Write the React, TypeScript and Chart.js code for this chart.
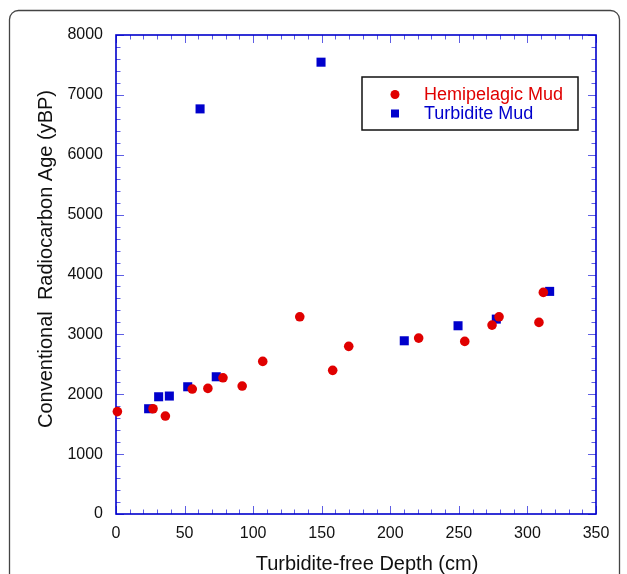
import React, { useEffect, useRef } from "react";
import { Chart, registerables } from "chart.js";

Chart.register(...registerables);

const hemiDepth = [1, 27, 36, 55.6, 67, 78, 92, 107, 134, 158, 169.7, 220.7, 254.3, 274.2, 279.3, 308.4, 311.6];
const hemiAge = [1710, 1758, 1636, 2087, 2098, 2275, 2137, 2549, 3294, 2399, 2800, 2938, 2883, 3155, 3294, 3200, 3701];
const turbDepth = [23.8, 31.1, 38.9, 52.3, 73.1, 61.3, 149.5, 210.2, 249.4, 277.3, 316.2];
const turbAge = [1758, 1958, 1970, 2125, 2292, 6766, 7546, 2893, 3144, 3255, 3718];
const seriesLabels = ["Hemipelagic Mud", "Turbidite Mud"];
const xTitle = "Turbidite-free Depth (cm)";
const yTitle = "Conventional  Radiocarbon Age (yBP)";

const RED = "#e00000";
const BLUE = "#0000cc";
const FONT = "'Liberation Sans', Arial, sans-serif";

const decorPlugin = {
  id: "decor",
  beforeDatasetsDraw(chart: any) {
    const { ctx, chartArea: a, scales } = chart;
    const xs = scales.x;
    const ys = scales.y;
    ctx.save();
    // outer rounded frame
    ctx.strokeStyle = "#444";
    ctx.lineWidth = 1.3;
    ctx.beginPath();
    const fx = 9.5, fy = 10.5, fw = 610, fh = 600, r = 9;
    ctx.moveTo(fx + r, fy);
    ctx.lineTo(fx + fw - r, fy);
    ctx.arcTo(fx + fw, fy, fx + fw, fy + r, r);
    ctx.lineTo(fx + fw, fy + fh);
    ctx.moveTo(fx, fy + fh);
    ctx.lineTo(fx, fy + r);
    ctx.arcTo(fx, fy, fx + r, fy, r);
    ctx.stroke();

    // ticks
    ctx.strokeStyle = "rgba(40,40,220,0.75)";
    ctx.lineWidth = 1;
    ctx.beginPath();
    for (let v = 0; v <= 350; v += 10) {
      const px = Math.round(xs.getPixelForValue(v)) + 0.5;
      const len = v % 50 === 0 ? 8 : 4.5;
      ctx.moveTo(px, a.bottom);
      ctx.lineTo(px, a.bottom - len);
      ctx.moveTo(px, a.top);
      ctx.lineTo(px, a.top + len);
    }
    for (let v = 0; v <= 8000; v += 200) {
      const py = Math.round(ys.getPixelForValue(v)) + 0.5;
      const len = v % 1000 === 0 ? 8 : 4.5;
      ctx.moveTo(a.left, py);
      ctx.lineTo(a.left + len, py);
      ctx.moveTo(a.right, py);
      ctx.lineTo(a.right - len, py);
    }
    ctx.stroke();

    // axis box
    ctx.strokeStyle = BLUE;
    ctx.lineWidth = 1.6;
    ctx.strokeRect(a.left, a.top, a.right - a.left, a.bottom - a.top);

    // axis titles
    ctx.fillStyle = "#111";
    ctx.font = `20px ${FONT}`;
    ctx.textAlign = "center";
    ctx.textBaseline = "middle";
    ctx.fillText(xTitle, 367, 564);
    ctx.translate(46, 259);
    ctx.rotate(-Math.PI / 2);
    ctx.fillText(yTitle, 0, 0);
    ctx.restore();
  },
  afterDraw(chart: any) {
    const { ctx } = chart;
    ctx.save();
    ctx.fillStyle = "#fff";
    ctx.fillRect(362, 77, 216, 53);
    ctx.strokeStyle = "#111";
    ctx.lineWidth = 1.5;
    ctx.strokeRect(362, 77, 216, 53);
    ctx.font = `18px ${FONT}`;
    ctx.textAlign = "left";
    ctx.textBaseline = "middle";
    const rows = [94.5, 113.5];
    chart.data.datasets.forEach((ds: any, i: number) => {
      const y = rows[i];
      ctx.fillStyle = ds.backgroundColor;
      if (ds.pointStyle === "rect") {
        ctx.fillRect(391, y - 4, 8, 8);
      } else {
        ctx.beginPath();
        ctx.arc(395, y, 4.5, 0, Math.PI * 2);
        ctx.fill();
      }
      ctx.fillText(ds.label, 424, y + 0.5);
    });
    ctx.restore();
  },
};

export default function App() {
  const ref = useRef<HTMLCanvasElement>(null);
  useEffect(() => {
    if (!ref.current) return;
    const chart = new Chart(ref.current, {
      type: "scatter",
      data: {
        datasets: [
          {
            label: seriesLabels[0],
            data: hemiDepth.map((x, i) => ({ x, y: hemiAge[i] })),
            backgroundColor: RED,
            borderColor: RED,
            borderWidth: 0,
            pointStyle: "circle",
            pointRadius: 4.8,
            clip: false,
          },
          {
            label: seriesLabels[1],
            data: turbDepth.map((x, i) => ({ x, y: turbAge[i] })),
            backgroundColor: BLUE,
            borderColor: BLUE,
            borderWidth: 0,
            pointStyle: "rect",
            pointRadius: 6.4,
            clip: false,
          },
        ],
      },
      options: {
        responsive: false,
        animation: false,
        devicePixelRatio: 1,
        layout: { padding: { left: 0, top: 35, right: 31, bottom: 0 } },
        plugins: { legend: { display: false }, tooltip: { enabled: false } },
        scales: {
          x: {
            type: "linear",
            min: 0,
            max: 350,
            grid: { display: false, drawTicks: false },
            border: { display: false },
            ticks: { stepSize: 50, color: "#111", font: { family: FONT, size: 16 }, padding: 10, maxRotation: 0, callback: (v: any) => String(v) },
            afterFit: (s: any) => { s.height = 60; },
          },
          y: {
            type: "linear",
            min: 0,
            max: 8000,
            grid: { display: false, drawTicks: false },
            border: { display: false },
            ticks: { stepSize: 1000, color: "#111", font: { family: FONT, size: 16 }, padding: 13, callback: (v: any) => String(v) },
            afterFit: (s: any) => { s.width = 116; },
          },
        },
      },
      plugins: [decorPlugin],
    } as any);
    return () => chart.destroy();
  }, []);
  return (
    <div style={{ position: "fixed", left: 0, top: 0, width: 627, height: 574, background: "#fff" }}>
      <canvas ref={ref} width={627} height={574} style={{ display: "block" }} />
    </div>
  );
}
